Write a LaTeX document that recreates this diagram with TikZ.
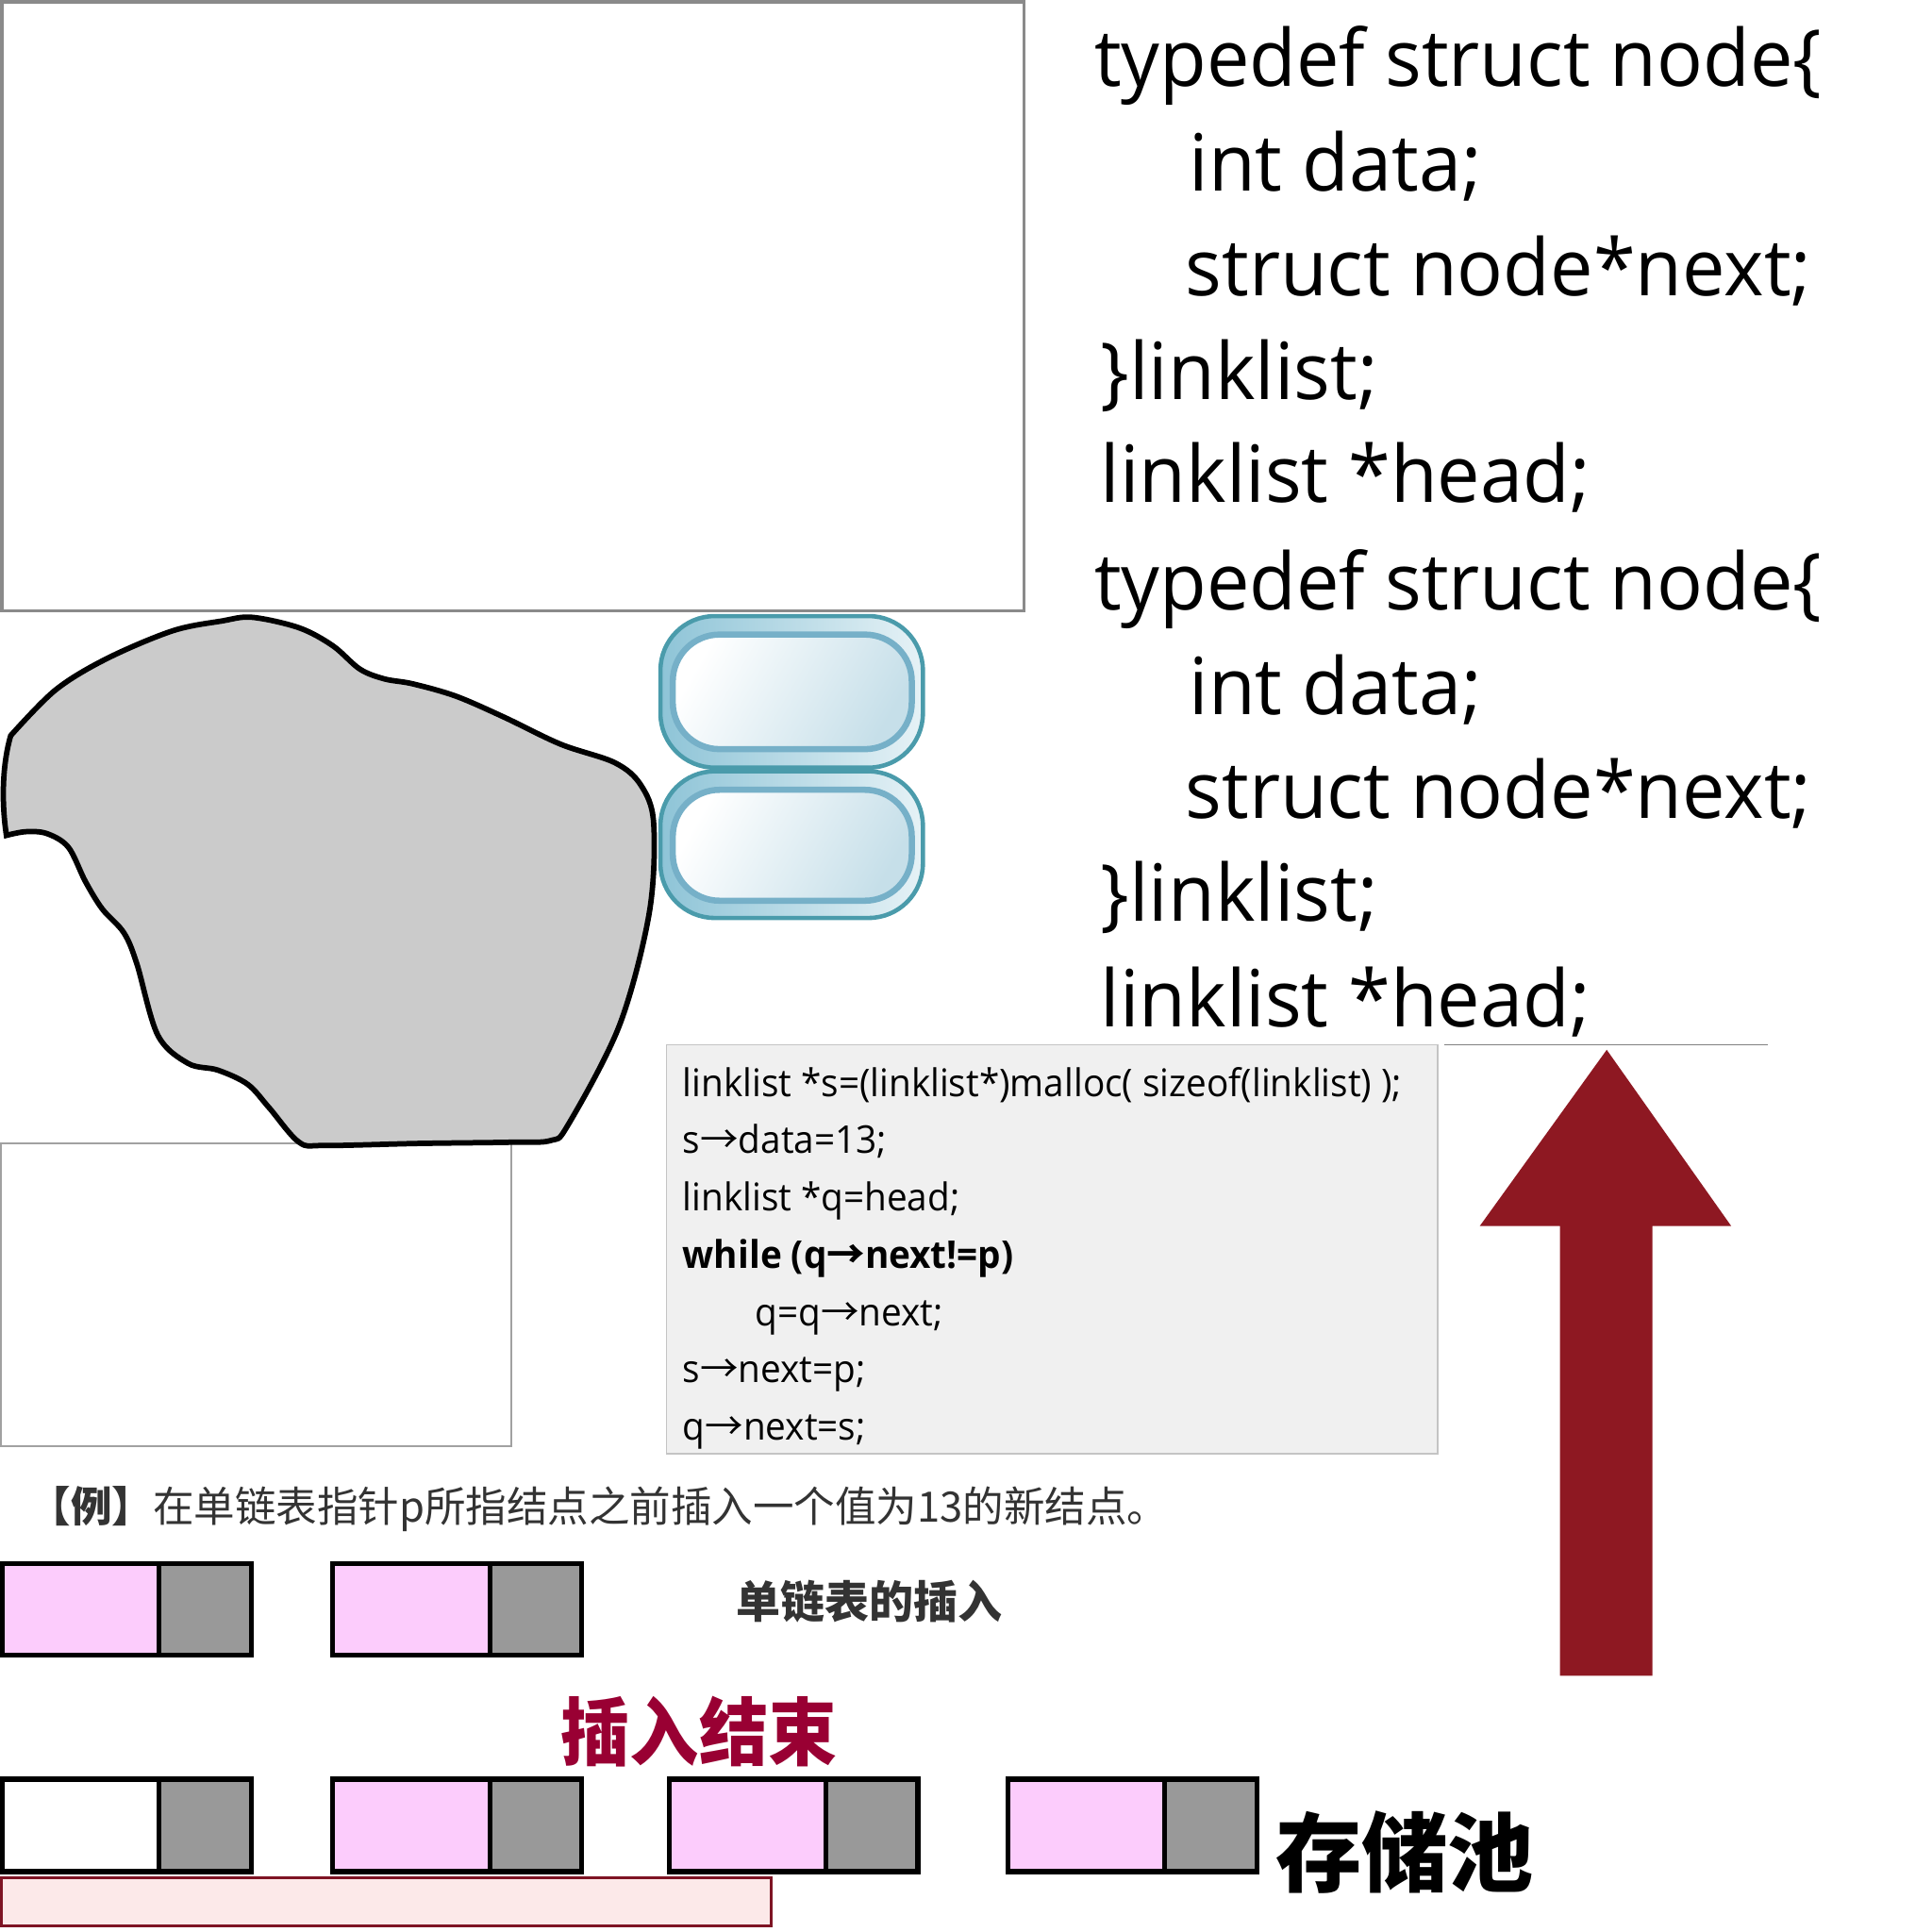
\documentclass[tikz,border=0pt]{standalone}
\usepackage{fontspec}
\setmainfont{Open Sans}
\newfontfamily\cjk{Noto Sans CJK SC}
\newfontfamily\cjkc[FakeStretch=0.98]{Noto Sans CJK SC}
\newfontfamily\cjkd[FakeStretch=0.935]{Noto Sans CJK SC}
\newfontfamily\bigcode[FakeStretch=0.97]{Open Sans}
\newfontfamily\smallcode[FakeStretch=0.956]{Open Sans}
\definecolor{frame}{HTML}{8A8A8A}
\definecolor{blobfill}{HTML}{CBCBCB}
\definecolor{pillline}{HTML}{4A9BAB}
\definecolor{pillL}{HTML}{8EC4D7}
\definecolor{pillR}{HTML}{E6F2F6}
\definecolor{pillin}{HTML}{76B0C8}
\definecolor{pillshade}{HTML}{C6DFE9}
\definecolor{codebg}{HTML}{F0F0F0}
\definecolor{codeline}{HTML}{C4C4C4}
\definecolor{arrowred}{HTML}{8E1822}
\definecolor{txtgray}{HTML}{333333}
\definecolor{pinkcell}{HTML}{FCCCFC}
\definecolor{graycell}{HTML}{999999}
\definecolor{crimson}{HTML}{990033}
\definecolor{poolfill}{HTML}{FCE9E9}
\definecolor{poolline}{HTML}{7E1424}
\newcommand\arr{{\cjk →}}
\newcommand\barr{{\cjk\bfseries →}}
\tikzset{
  bigtxt/.style={anchor=base west,inner sep=0,font=\bigcode\fontsize{64}{64}\selectfont},
  codetxt/.style={anchor=base west,inner sep=0,font=\smallcode\fontsize{31}{31}\selectfont},
  datacell/.style={draw=black,line width=4pt},
}
\begin{document}
\begin{tikzpicture}[x=1pt,y=-1pt]
\useasboundingbox (0,0) rectangle (1568,1568);
% frames
\draw[frame,line width=2.5pt] (1.5,1.5) rectangle (831,496);
\draw[frame!80,line width=1.5pt] (1,928) rectangle (415,1174);
% blob
\filldraw[fill=blobfill,draw=black,line width=4.4pt]
  (5.2,678) .. controls (1,650) and (2,620) .. (8.7,597)
  -- plot[smooth,tension=0.55] coordinates {(8.7,597) (45,560) (86.7,534.5) (140,512) (180,504) (204.6,501) (242.7,509.5) (270,524) (292,543) (312,551) (335,555) (370,565) (409,582) (455,604) (499,619) (520,637) (530.5,668) (527,740.5) (502.8,832) (461,913) (447,925.6) (416,927) (340,928) (263.5,929.7) (242.7,927) (218.4,899) (201,880) (176.8,868.5) (152.6,863) (128,840) (111,782) (100.5,757) (83,737.7) (69.3,715.4) (55.5,687.6) (38,676.5) (20.8,675) (5.2,678)}
  -- cycle;
% pills
\shade[left color=pillL,right color=pillR,rounded corners=44pt] (536,500) rectangle (749,623);
\draw[pillline,line width=3.5pt,rounded corners=44pt] (536,500) rectangle (749,623);
\shade[left color=white,right color=pillshade,shading angle=60,rounded corners=38pt] (546,515) rectangle (740,608);
\draw[pillin,line width=5pt,rounded corners=38pt] (546,515) rectangle (740,608);
\shade[left color=pillL,right color=pillR,rounded corners=44pt] (536,626) rectangle (749,745);
\draw[pillline,line width=3.5pt,rounded corners=44pt] (536,626) rectangle (749,745);
\shade[left color=white,right color=pillshade,shading angle=60,rounded corners=38pt] (546,641) rectangle (740,731);
\draw[pillin,line width=5pt,rounded corners=38pt] (546,641) rectangle (740,731);
% top code
\node[bigtxt] (t1) at (888,70) {typedef struct node\{};
\node[bigtxt] (t2) at (965,155) {int data;};
\node[bigtxt] (t3) at (962,240) {struct node*next;};
\node[bigtxt] (t4) at (893,324) {\}linklist;};
\node[bigtxt] (t5) at (893,408) {linklist *head;};
\node[bigtxt] (u1) at (888,495) {typedef struct node\{};
\node[bigtxt] (u2) at (965,580) {int data;};
\node[bigtxt] (u3) at (962,664) {struct node*next;};
\node[bigtxt] (u4) at (893,748) {\}linklist;};
\node[bigtxt] (u5) at (893,833) {linklist *head;};
% code box
\draw[fill=codebg,draw=codeline,line width=1.2pt] (541,848) rectangle (1167,1180);
\node[codetxt] (c1) at (554,890) {linklist *s=(linklist*)malloc( sizeof(linklist) );};
\node[codetxt] (c2) at (554,936) {s\arr data=13;};
\node[codetxt] (c3) at (554,983) {linklist *q=head;};
\node[codetxt,font=\smallcode\bfseries\fontsize{31}{31}\selectfont] (c4) at (554,1029) {while (q\barr next!=p)};
\node[codetxt] (c5) at (613,1076) {q=q\arr next;};
\node[codetxt] (c6) at (554,1122) {s\arr next=p;};
\node[codetxt] (c7) at (554,1169) {q\arr next=s;};
% arrow
\draw[gray,line width=1pt] (1172,848) -- (1435,848);
\fill[arrowred] (1304,852) -- (1405,995) -- (1341,995) -- (1341,1360) -- (1266,1360) -- (1266,995) -- (1201,995) -- cycle;
% example text
\node[anchor=west,inner sep=0,text=txtgray,font=\cjkc\fontsize{34}{34}\selectfont] (ex) at (24,1225) {\textbf{【例】}在单链表指针p所指结点之前插入一个值为13的新结点。};
% row 1
\fill[pinkcell] (2,1269) rectangle (129,1343);
\fill[graycell] (129,1269) rectangle (204,1343);
\draw[datacell] (2,1269) rectangle (204,1343) (129,1269) -- (129,1343);
\fill[pinkcell] (270,1269) rectangle (398,1343);
\fill[graycell] (398,1269) rectangle (472,1343);
\draw[datacell] (270,1269) rectangle (472,1343) (398,1269) -- (398,1343);
\node[anchor=west,inner sep=0,text=txtgray,font=\cjk\bfseries\fontsize{36}{36}\selectfont] (title) at (597,1300) {单链表的插入};
\node[anchor=west,inner sep=0,text=crimson,font=\cjkd\bfseries\fontsize{60}{60}\selectfont] (done) at (455,1405) {插入结束};
% row 2
\fill[white] (2,1444) rectangle (129,1519);
\fill[graycell] (129,1444) rectangle (204,1519);
\draw[datacell] (2,1444) rectangle (204,1519) (129,1444) -- (129,1519);
\fill[pinkcell] (270,1444) rectangle (398,1519);
\fill[graycell] (398,1444) rectangle (472,1519);
\draw[datacell] (270,1444) rectangle (472,1519) (398,1444) -- (398,1519);
\fill[pinkcell] (543,1444) rectangle (670,1519);
\fill[graycell] (670,1444) rectangle (745,1519);
\draw[datacell] (543,1444) rectangle (745,1519) (670,1444) -- (670,1519);
\fill[pinkcell] (818,1444) rectangle (945,1519);
\fill[graycell] (945,1444) rectangle (1020,1519);
\draw[datacell] (818,1444) rectangle (1020,1519) (945,1444) -- (945,1519);
\node[anchor=west,inner sep=0,text=black,font=\cjk\bfseries\fontsize{70}{70}\selectfont] (pool) at (1035,1503) {存储池};
% pool bar
\draw[fill=poolfill,draw=poolline,line width=2pt] (1,1524) rectangle (626,1563);
\end{tikzpicture}
\end{document}
